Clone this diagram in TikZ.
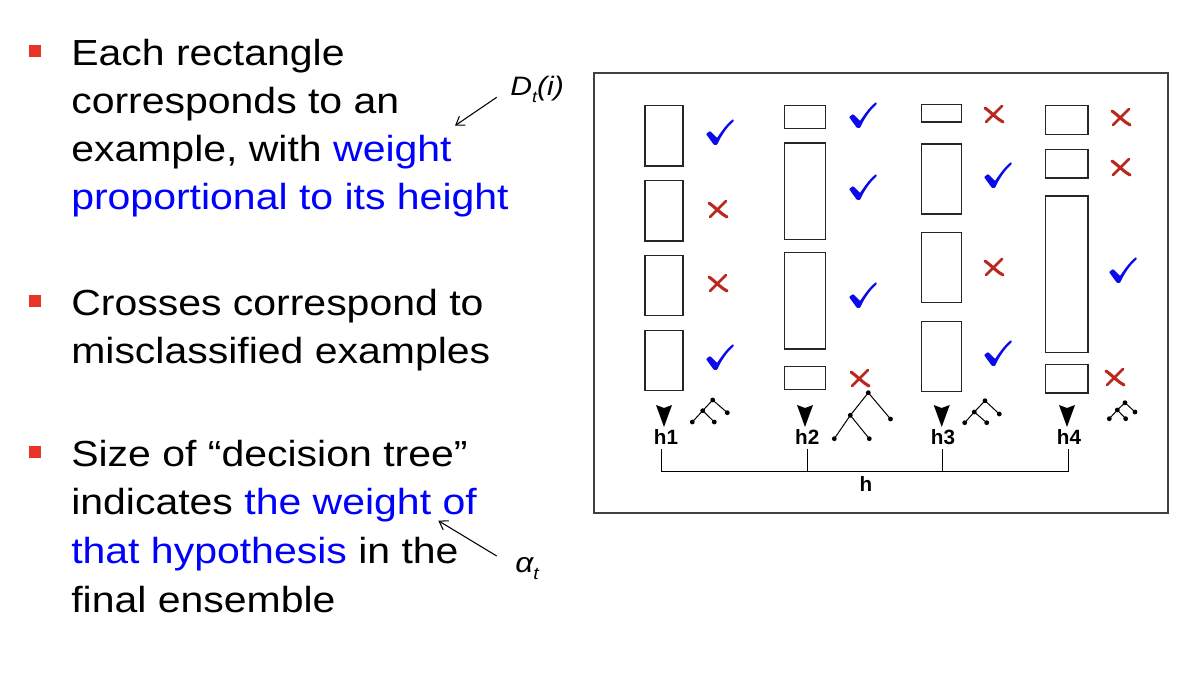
\documentclass[tikz,border=0pt]{standalone}
\usepackage{fontspec}
\setmainfont{Liberation Sans}[FakeStretch=1.13]
\newfontfamily\hfont{Liberation Sans}
\usetikzlibrary{arrows.meta,fit}
\definecolor{bulletred}{RGB}{232,52,40}
\definecolor{crossred}{RGB}{185,40,30}
\definecolor{checkblue}{RGB}{10,10,235}
\definecolor{txtblue}{RGB}{0,0,255}
\newcommand\exbox[5]{\node[exbox, fit={(#2,#3) (#4,#5)}] (#1) {};}
\newcommand\dtree[5]{%
  \draw[treeline] #1 -- #2 -- #4 #2 -- #5 #1 -- #3;
  \fill #1 circle[radius=1.8pt]; \fill #2 circle[radius=1.8pt];
  \fill #3 circle[radius=1.8pt]; \fill #4 circle[radius=1.8pt];
  \fill #5 circle[radius=1.8pt];}
\begin{document}
\begin{tikzpicture}[x=0.75pt,y=-0.75pt,
  txt/.style={anchor=base west, inner sep=0pt, font=\fontsize{27.2}{32}\selectfont},
  bul/.style={fill=bulletred, minimum size=9pt, inner sep=0pt},
  exbox/.style={draw=black!85, line width=0.8pt, inner sep=0pt},
  treeline/.style={line width=0.75pt},
  hlab/.style={anchor=base, inner sep=3.5pt, font=\hfont\fontsize{15.5}{18}\selectfont\bfseries},
  note/.style={anchor=base west, inner sep=0pt, font=\fontsize{20}{22}\selectfont\itshape},
  ptr/.style={line width=0.8pt, -{Straight Barb[length=6pt,width=8pt]}},
  chk/.pic={\fill[checkblue, rounded corners=0.6pt] (-14,2) -- (-10,-1) -- (-3,6) .. controls (3,-3) and (8,-9) .. (13,-13) -- (14,-11) .. controls (7,-5) and (1,4) .. (-3,13) -- (-6,13) -- cycle;},
  crs/.pic={\draw[crossred, line width=2.3pt, line cap=round] (-9,-6) .. controls (-2,-1) and (3,5) .. (9,8);
            \draw[crossred, line width=2.1pt, line cap=round] (8,-8) .. controls (2,-2) .. (-8,8);},
  harrow/.pic={\fill (-8,0) -- (0,3) -- (8,0) -- (0,22) -- cycle;}
]
\useasboundingbox (0,0) rectangle (1182,680);
\fill[white] (0,0) rectangle (1182,680);

% ---- bullets and text
\node[bul] (b1) at (34.5,51) {};
\node[bul] (b2) at (34.5,301) {};
\node[bul] (b3) at (34.5,452.5) {};

\node[txt] (t11) at (71,65.5) {Each rectangle};
\node[txt] (t12) at (71,114) {corresponds to an};
\node[txt] (t13) at (71,162) {example, with \textcolor{txtblue}{weight}};
\node[txt] (t14) at (71,210) {\textcolor{txtblue}{proportional to its height}};

\node[txt] (t21) at (71,316) {Crosses correspond to};
\node[txt] (t22) at (71,363.5) {misclassified examples};

\node[txt] (t31) at (71,466.7) {Size of “decision tree”};
\node[txt] (t32) at (71,515) {indicates \textcolor{txtblue}{the weight of}};
\node[txt] (t33) at (71,563.3) {\textcolor{txtblue}{that hypothesis} in the};
\node[txt] (t34) at (71,612.7) {final ensemble};

% ---- annotations
\node[note] (dt) at (510,96) {D\raisebox{-5pt}{\fontsize{12}{12}\selectfont t}(i)};
\coordinate (dstart) at (496.7,97.3);
\coordinate (dtip) at (455,125.7);
\draw[ptr] (dstart) -- (dtip);

\node[note, font=\fontsize{21}{24}\selectfont\itshape] (al) at (515,572.7) {α\raisebox{-5pt}{\fontsize{13}{13}\selectfont t}};
\coordinate (astart) at (496.7,556);
\coordinate (atip) at (438.3,520.7);
\draw[ptr] (astart) -- (atip);

% ---- frame
\node[draw=black!75, line width=0.9pt, inner sep=0pt, fit={(594,73) (1168,513)}] (frame) {};

% ---- column 1
\exbox{r11}{645}{105.3}{683}{166}
\exbox{r12}{645}{180.3}{683}{241}
\exbox{r13}{645}{255.3}{683}{315.7}
\exbox{r14}{645}{330.7}{683}{390.3}
\pic at (720,132) {chk};
\pic at (718,209) {crs};
\pic at (718,283) {crs};
\pic at (720,357) {chk};

% ---- column 2
\exbox{r21}{784.7}{105.3}{825.3}{128.3}
\exbox{r22}{784.7}{143}{825.3}{239.7}
\exbox{r23}{784.7}{252.3}{825.3}{349}
\exbox{r24}{784.7}{366.3}{825.3}{389.3}
\pic at (863,115) {chk};
\pic at (863,187) {chk};
\pic at (863,295) {chk};
\pic at (860,378) {crs};

% ---- column 3
\exbox{r31}{921.3}{104.7}{961.7}{122}
\exbox{r32}{921.3}{144}{961.7}{214}
\exbox{r33}{921.3}{232.7}{961.7}{302.7}
\exbox{r34}{921.3}{321.7}{961.7}{391.7}
\pic at (994,114) {crs};
\pic at (998,175) {chk};
\pic at (994,267) {crs};
\pic at (998,353) {chk};

% ---- column 4
\exbox{r41}{1045.7}{105.3}{1088}{134.3}
\exbox{r42}{1045.7}{149.3}{1088}{178}
\exbox{r43}{1045.7}{196}{1088}{352.3}
\exbox{r44}{1045.7}{364.3}{1088}{393}
\pic at (1121,117) {crs};
\pic at (1121,167) {crs};
\pic at (1123,270) {chk};
\pic at (1115,377) {crs};

% ---- arrows to hypotheses
\pic at (664,405) {harrow};
\pic at (805,405) {harrow};
\pic at (941.7,405) {harrow};
\pic at (1067,405) {harrow};

% ---- trees
\dtree{(712.7,400)}{(702.7,410.7)}{(727.3,412.7)}{(692.3,422)}{(714.3,422)}
\dtree{(868.3,392.7)}{(850.3,415.3)}{(890.5,419)}{(834.3,438.7)}{(869.3,438.7)}
\dtree{(985,400.7)}{(974.3,412)}{(999.3,414)}{(964.7,422.7)}{(986.7,422.7)}
\dtree{(1125,402.7)}{(1117.3,410)}{(1135,412)}{(1109.3,418.7)}{(1125.7,418.7)}

% ---- hypothesis labels and combination
\node[hlab] (h1) at (666,444.3) {h1};
\node[hlab] (h2) at (807.3,444.3) {h2};
\node[hlab] (h3) at (943,444.3) {h3};
\node[hlab] (h4) at (1069,444.3) {h4};
\coordinate (v1) at (661.7,471.7);
\coordinate (v2) at (807.3,471.7);
\coordinate (v3) at (942.7,471.7);
\coordinate (v4) at (1068.7,471.7);
\draw[line width=0.75pt] (h1.south -| v1) -- (v1);
\draw[line width=0.75pt] (h2.south -| v2) -- (v2);
\draw[line width=0.75pt] (h3.south -| v3) -- (v3);
\draw[line width=0.75pt] (h4.south -| v4) -- (v4);
\draw[line width=0.75pt] (v1) -- (v4);
\node[hlab, inner sep=0pt] (h) at (866,491.7) {h};
\end{tikzpicture}
\end{document}
